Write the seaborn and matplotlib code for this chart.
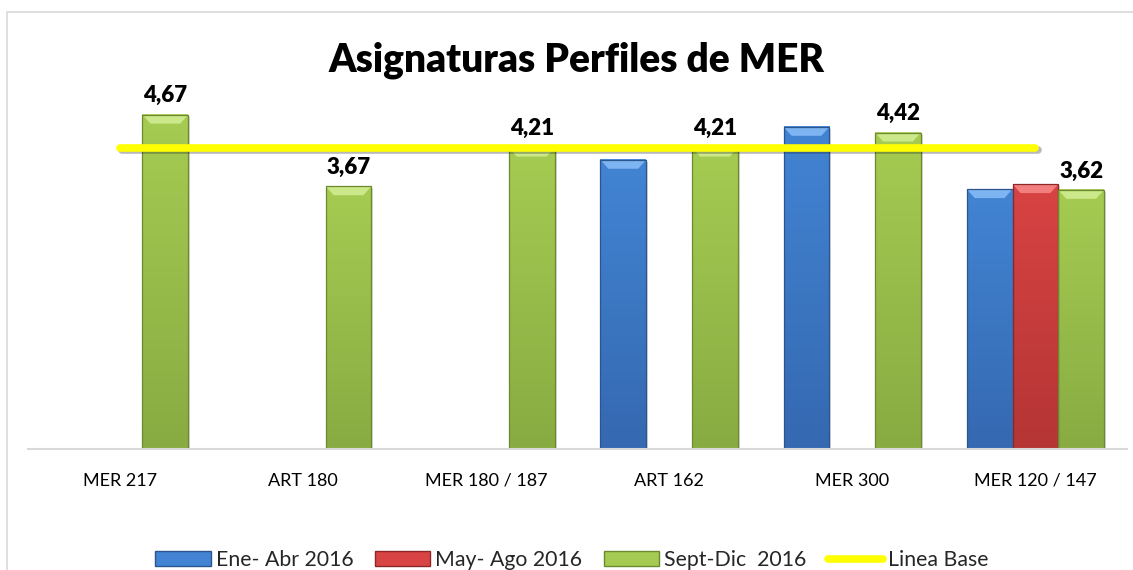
import numpy as np
import pandas as pd
import seaborn as sns
import matplotlib.pyplot as plt
from matplotlib.patches import Polygon, Rectangle, Patch
from matplotlib.lines import Line2D
from matplotlib.colors import LinearSegmentedColormap
import matplotlib.patheffects as pe

# --- DATOS ---
categorias = ["MER 217", "ART 180", "MER 180 / 187", "ART 162", "MER 300", "MER 120 / 147"]
ene_abr = [np.nan, np.nan, np.nan, 4.04, 4.50, 3.63]
may_ago = [np.nan, np.nan, np.nan, np.nan, np.nan, 3.70]
sept_dic = [4.67, 3.67, 4.21, 4.21, 4.42, 3.62]
linea_base = [4.2, 4.2, 4.2, 4.2, 4.2, 4.2]
series = ["Ene- Abr 2016", "May- Ago 2016", "Sept-Dic  2016"]

# --- ESTILO ---
COLORES = {"Ene- Abr 2016": "#4284D3", "May- Ago 2016": "#D84343", "Sept-Dic  2016": "#A5CB52"}
FONDO = {"Ene- Abr 2016": "#3569B1", "May- Ago 2016": "#B53535", "Sept-Dic  2016": "#89AC42"}
CLAROS = {"Ene- Abr 2016": "#7FB4F2", "May- Ago 2016": "#F27E7E", "Sept-Dic  2016": "#CBE88A"}
BORDES = {"Ene- Abr 2016": "#2A558F", "May- Ago 2016": "#8E2828", "Sept-Dic  2016": "#6B8A2E"}
AMARILLO = "#FFFF00"

sns.set_theme(style="white")
plt.rcParams['font.family'] = ['Lato', 'DejaVu Sans']

df = pd.DataFrame({
    "categoria": categorias * 3,
    "serie": [series[0]] * 6 + [series[1]] * 6 + [series[2]] * 6,
    "valor": ene_abr + may_ago + sept_dic,
})

fig = plt.figure(figsize=(11.33, 5.70), dpi=100)
ax = fig.add_axes([28 / 1133, 121 / 570, 1099 / 1133, 358 / 570])

sns.barplot(data=df, x="categoria", y="valor", hue="serie", order=categorias,
            hue_order=series, palette=COLORES, width=0.75, errorbar=None,
            legend=False, ax=ax, zorder=2)

ax.set_xlim(-0.5, 5.5)
ax.set_ylim(0, 5)

# bisel estilo Excel sobre cada barra
px_x = (ax.get_xlim()[1] - ax.get_xlim()[0]) / 1099
px_y = (ax.get_ylim()[1] - ax.get_ylim()[0]) / 358
for cont, serie in zip(ax.containers, series):
    cmap = LinearSegmentedColormap.from_list(serie, [FONDO[serie], COLORES[serie]])
    for p in cont:
        h = p.get_height()
        if not np.isfinite(h) or h <= 0:
            continue
        x0, y0, w = p.get_x(), p.get_y(), p.get_width()
        # sombra
        ax.add_patch(Rectangle((x0 + 2 * px_x, y0), w, h - 2 * px_y, fc="black", alpha=0.15,
                               ec="none", zorder=1.9))
        ax.imshow(np.linspace(0, 1, 64).reshape(-1, 1), extent=(x0, x0 + w, y0, y0 + h),
                  cmap=cmap, aspect="auto", origin="lower", zorder=2.1)
        bx, by = 8 * px_x, 9 * px_y
        ax.add_patch(Polygon([(x0, y0 + h), (x0 + w, y0 + h), (x0 + w - bx, y0 + h - by),
                              (x0 + bx, y0 + h - by)], closed=True, fc=CLAROS[serie],
                             ec="none", zorder=2.2))
        ax.add_patch(Rectangle((x0, y0), w, h, fill=False, ec=BORDES[serie], lw=0.9, zorder=2.3))
        p.set_visible(False)

ax.set_xlim(-0.5, 5.5)
ax.set_ylim(0, 5)

# etiquetas solo para Sept-Dic
ax.bar_label(ax.containers[2], labels=[f"{v:.2f}".replace(".", ",") for v in sept_dic],
             padding=6, fontsize=16, fontweight=800, color="black", zorder=5)

# linea base
ax.plot(range(len(categorias)), linea_base, color=AMARILLO, lw=5.5, solid_capstyle="round",
        zorder=4, path_effects=[pe.SimpleLineShadow(offset=(1.5, -1.5), alpha=0.3), pe.Normal()])

for s in ["top", "left", "right"]:
    ax.spines[s].set_visible(False)
ax.spines["bottom"].set_color("#D9D9D9")
ax.spines["bottom"].set_linewidth(1.5)
ax.set_yticks([])
ax.set_xlabel("")
ax.set_ylabel("")
ax.tick_params(axis="x", length=0, pad=17, labelsize=13, labelcolor="black")

fig.text(577 / 1133, (570 - 72) / 570, "Asignaturas Perfiles de MER", ha="center",
         va="baseline", fontsize=28, fontweight=800, color="black")

# borde del grafico
fig.add_artist(Rectangle((7 / 1133, -0.1), 1.2, 0.1 + (570 - 12) / 570, transform=fig.transFigure,
                         fill=False, ec="#D9D9D9", lw=1.2))

handles = [Patch(fc=COLORES[s], ec=BORDES[s], lw=1) for s in series]
handles.append(Line2D([0], [0], color=AMARILLO, lw=5.5, solid_capstyle="round"))
fig.legend(handles, series + ["Linea Base"], loc="center", bbox_to_anchor=(572 / 1133, 10 / 570),
           ncol=4, frameon=False, fontsize=15.3, handlelength=2.6, handleheight=0.65,
           handletextpad=0.25, columnspacing=1.0, borderpad=0)

fig.savefig("out.png", dpi=100)
